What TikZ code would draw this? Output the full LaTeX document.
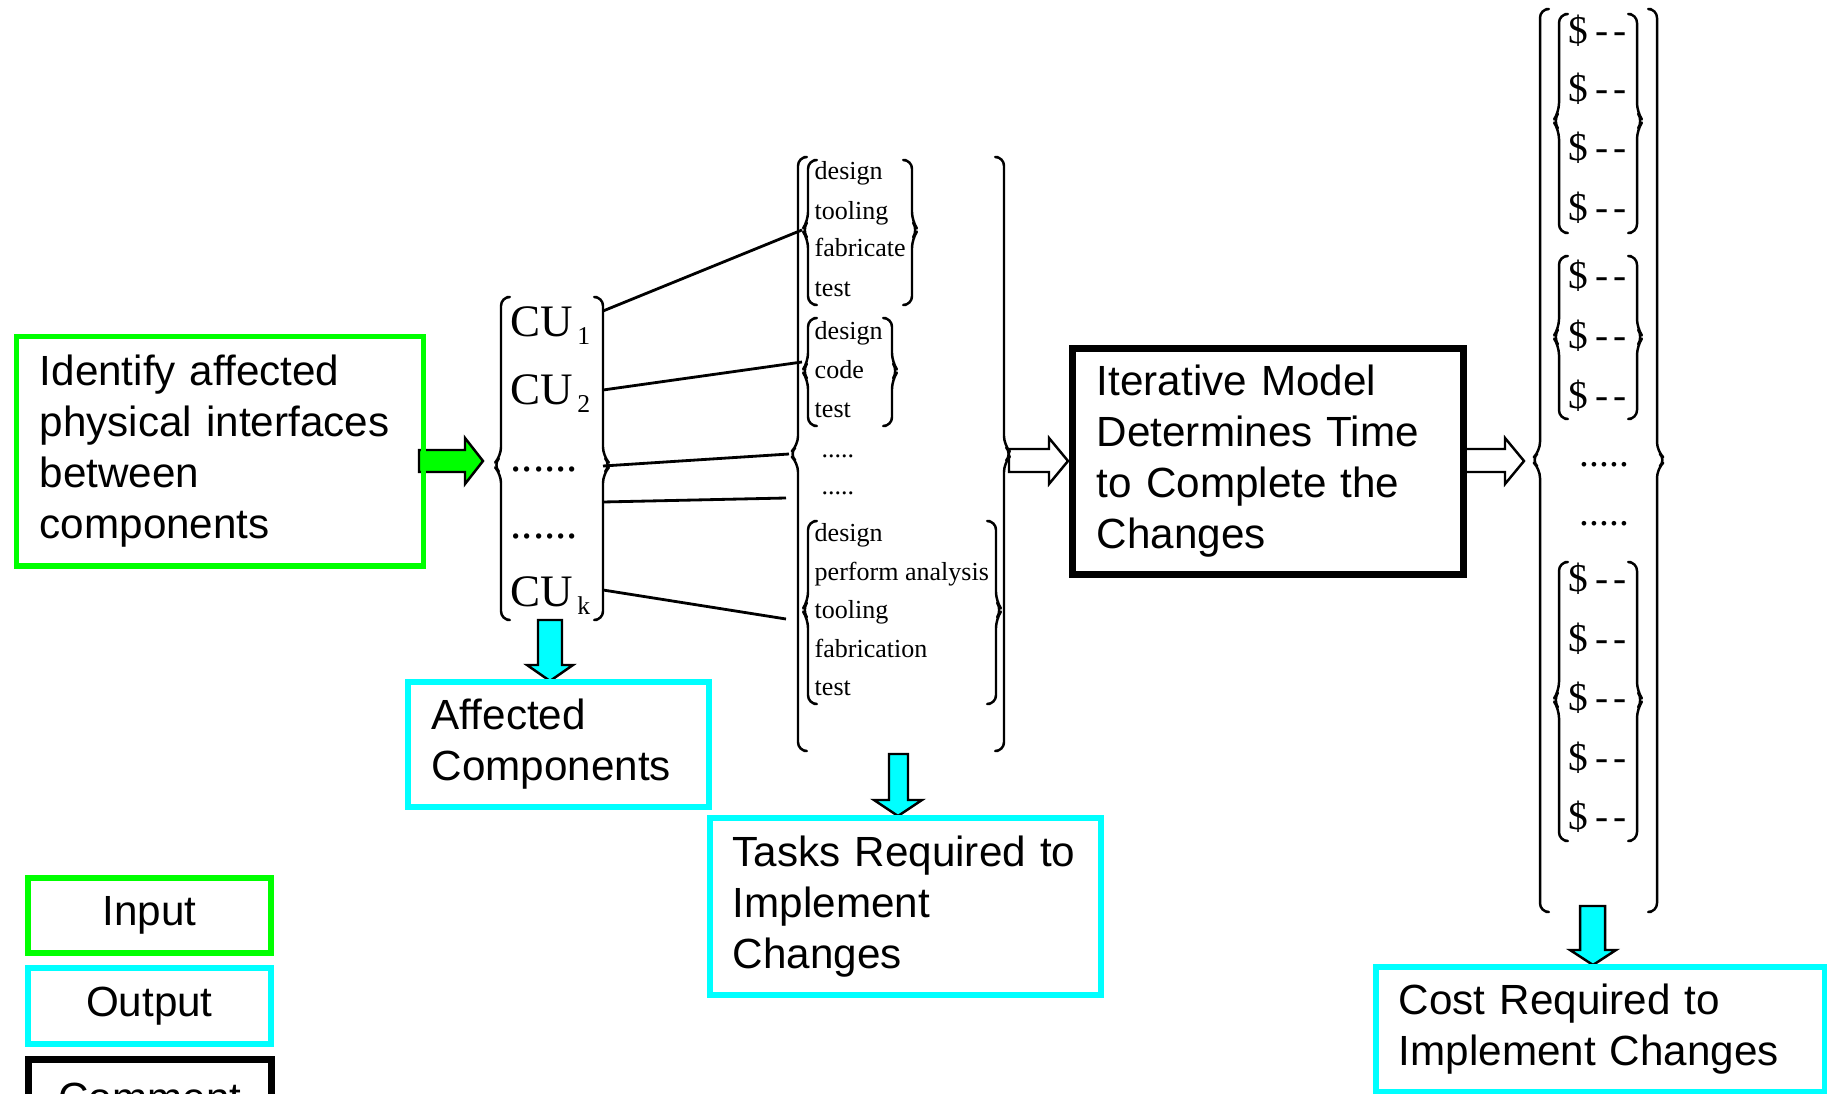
\documentclass[tikz,border=0pt]{standalone}
\usepackage{fontspec}
\setmainfont{Liberation Serif}
\newfontfamily\arialfam{Liberation Sans}
\definecolor{ingreen}{RGB}{0,255,0}
\definecolor{outcyan}{RGB}{0,255,255}
% one side of a bracket-brace: x, top, bottom, mid, direction (1 left side, -1 right side), bump depth
\newcommand\sidebr[6]{%
  \draw[brk] ({#1+(#5)*6},#2) -- (#1,#2) -- (#1,{#4-9}) -- ({#1-(#5)*#6},#4) -- (#1,{#4+9}) -- (#1,#3) -- ({#1+(#5)*6},#3);}
\newcommand\cusub[1]{\kern1.2pt\raisebox{-2.5pt}{\fontsize{7.3}{8}\selectfont #1}}
\newcommand\dol{\$\kern2pt-\kern1.4pt-}
\tikzset{
  brk/.style={line width=0.7pt, line cap=round, line join=round, rounded corners=2.5pt},
  conn/.style={line width=0.8pt},
  txtbox/.style={rectangle, inner xsep=0pt, inner ysep=0pt, align=left, anchor=north west,
     font=\arialfam\fontsize{12}{14.5}\selectfont, line width=1.6pt},
  inbox/.style={txtbox, draw=ingreen},
  outbox/.style={txtbox, draw=outcyan},
  cmbox/.style={txtbox, draw=black, line width=1.9pt},
  legbox/.style={txtbox, align=center},
  cutext/.style={anchor=base west, inner sep=0pt, font=\fontsize{12.8}{14}\selectfont},
  tasktext/.style={anchor=base west, inner sep=0pt, font=\fontsize{7.4}{9}\selectfont},
  doltext/.style={anchor=base west, inner sep=0pt, font=\fontsize{11.2}{12}\selectfont},
  greenarrow/.style={draw=black, fill=ingreen, line width=0.7pt, line join=miter},
  hollowarrow/.style={draw=black, fill=white, line width=0.7pt, line join=miter},
  cyanarrow/.style={draw=black, fill=outcyan, line width=0.7pt, line join=miter}
}
\begin{document}
\begin{tikzpicture}[x=0.01cm,y=-0.01cm]
\useasboundingbox (0,0) rectangle (1827,1094);
\clip (0,0) rectangle (1827,1094);

% ---------- block arrows ----------
\draw[greenarrow] (419,450) -- (465,450) -- (465,438) -- (483,461) -- (465,484) -- (465,472) -- (419,472) -- cycle;
\draw[hollowarrow] (1009,449) -- (1049,449) -- (1049,438) -- (1068,461) -- (1049,484) -- (1049,472) -- (1009,472) -- cycle;
\draw[hollowarrow] (1462,449) -- (1505,449) -- (1505,438) -- (1524,461) -- (1505,484) -- (1505,472) -- (1462,472) -- cycle;
\draw[cyanarrow] (538,620) -- (562,620) -- (562,665) -- (573,665) -- (550,681) -- (527,665) -- (538,665) -- cycle;
\draw[cyanarrow] (889,754) -- (908,754) -- (908,800) -- (922,800) -- (898,816) -- (874,800) -- (889,800) -- cycle;
\draw[cyanarrow] (1580,906) -- (1605,906) -- (1605,950) -- (1616,950) -- (1593,965) -- (1570,950) -- (1580,950) -- cycle;

% ---------- boxes ----------
\node[inbox, minimum width=4.07cm, minimum height=2.295cm, text width=3.60cm] (inp) at (13.5,333.5)
  {Identify affected\\physical interfaces\\between\\components};
\node[cmbox, minimum width=3.91cm, minimum height=2.26cm, text width=3.42cm] (iter) at (1069,345)
  {Iterative Model\\Determines Time\\to Complete the\\Changes};
\node[outbox, minimum width=3.01cm, minimum height=1.25cm, text width=2.53cm] (aff) at (405,679)
  {Affected\\Components};
\node[outbox, minimum width=3.91cm, minimum height=1.77cm, text width=3.45cm] (tasks) at (707,815)
  {Tasks Required to\\Implement\\Changes};
\node[outbox, minimum width=4.49cm, minimum height=1.25cm, text width=4.03cm] (cost) at (1373,964)
  {Cost Required to\\Implement Changes};

% ---------- legend ----------
\node[legbox, draw=ingreen, minimum width=2.43cm, minimum height=0.75cm] (legin) at (25,875) {Input};
\node[legbox, draw=outcyan, minimum width=2.43cm, minimum height=0.76cm] (legout) at (25,965) {Output};
\node[legbox, draw=black, line width=1.9pt, minimum width=2.43cm, minimum height=0.77cm] (legcom) at (25,1056) {Comment};

% ---------- CU column ----------
\sidebr{501}{297}{620}{465}{1}{8}
\sidebr{603}{297}{620}{465}{-1}{8}
\node[cutext] (cu1) at (510,336) {CU\cusub{1}};
\node[cutext] (cu2) at (510,404) {CU\cusub{2}};
\node[cutext] (cud1) at (510,471) {......};
\node[cutext] (cud2) at (510,538) {......};
\node[cutext] (cuk) at (510,606) {CU\cusub{k}};

% ---------- task column ----------
\sidebr{798}{157}{751}{454}{1}{9}
\sidebr{1004}{157}{751}{454}{-1}{8}
\sidebr{808}{160}{305}{230}{1}{6}
\sidebr{912}{160}{305}{230}{-1}{6}
\sidebr{808}{318}{426}{371}{1}{6}
\sidebr{892}{318}{426}{371}{-1}{6}
\sidebr{808}{521}{704}{610}{1}{6}
\sidebr{996}{521}{704}{610}{-1}{6}
\node[tasktext] (t11) at (814,180) {design};
\node[tasktext] (t12) at (814,219) {tooling};
\node[tasktext] (t13) at (814,257) {fabricate};
\node[tasktext] (t14) at (814,296) {test};
\node[tasktext] (t21) at (814,339) {design};
\node[tasktext] (t22) at (814,378) {code};
\node[tasktext] (t23) at (814,417) {test};
\node[tasktext] (td1) at (821,457) {.....};
\node[tasktext] (td2) at (821,494) {.....};
\node[tasktext] (t31) at (814,541) {design};
\node[tasktext] (t32) at (814,580) {perform analysis};
\node[tasktext] (t33) at (814,618) {tooling};
\node[tasktext] (t34) at (814,657) {fabrication};
\node[tasktext] (t35) at (814,695) {test};

% ---------- cost column ----------
\sidebr{1540}{9}{912}{460}{1}{9}
\sidebr{1657}{9}{912}{460}{-1}{9}
\sidebr{1559}{14}{233}{121}{1}{6}
\sidebr{1637}{14}{233}{121}{-1}{6}
\sidebr{1559}{256}{419}{337}{1}{6}
\sidebr{1637}{256}{419}{337}{-1}{6}
\sidebr{1559}{562}{841}{700}{1}{6}
\sidebr{1637}{562}{841}{700}{-1}{6}
\node[doltext] (c11) at (1568,44) {\dol};
\node[doltext] (c12) at (1568,102) {\dol};
\node[doltext] (c13) at (1568,161) {\dol};
\node[doltext] (c14) at (1568,221) {\dol};
\node[doltext] (c21) at (1568,288) {\dol};
\node[doltext] (c22) at (1568,348) {\dol};
\node[doltext] (c23) at (1568,408) {\dol};
\node[doltext] (cd1) at (1579,466) {.....};
\node[doltext] (cd2) at (1579,525) {.....};
\node[doltext] (c31) at (1568,591) {\dol};
\node[doltext] (c32) at (1568,651) {\dol};
\node[doltext] (c33) at (1568,710) {\dol};
\node[doltext] (c34) at (1568,770) {\dol};
\node[doltext] (c35) at (1568,829) {\dol};

% ---------- connectors ----------
\coordinate (s1) at (603,311); \coordinate (e1) at (802,230);
\coordinate (s2) at (603,390); \coordinate (e2) at (802,362);
\coordinate (s3) at (603,466); \coordinate (e3) at (789,454);
\coordinate (s4) at (603,502); \coordinate (e4) at (786,498);
\coordinate (s5) at (603,590); \coordinate (e5) at (786,619);
\draw[conn] (s1) -- (e1);
\draw[conn] (s2) -- (e2);
\draw[conn] (s3) -- (e3);
\draw[conn] (s4) -- (e4);
\draw[conn] (s5) -- (e5);
\end{tikzpicture}
\end{document}
